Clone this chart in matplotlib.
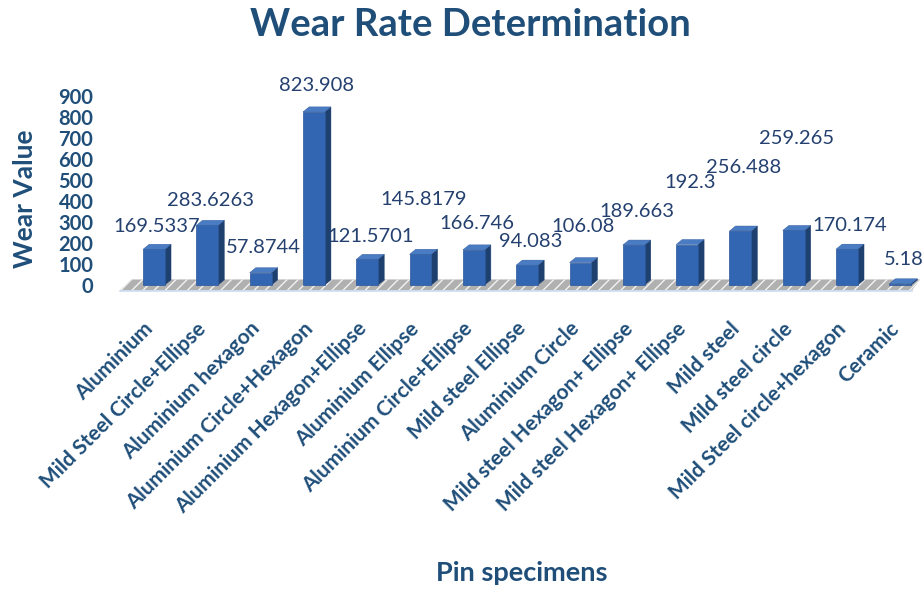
import matplotlib.pyplot as plt
from matplotlib.patches import Polygon
from matplotlib.transforms import ScaledTranslation

plt.rcParams['font.family'] = ['Lato', 'DejaVu Sans']

specimens = [
    "Aluminium", "Mild Steel Circle+Ellipse", "Aluminium hexagon",
    "Aluminium Circle+Hexagon", "Aluminium Hexagon+Ellipse", "Aluminium Ellipse",
    "Aluminium Circle+Ellipse", "Mild steel Ellipse", "Aluminium Circle",
    "Mild steel Hexagon+ Ellipse", "Mild steel Hexagon+ Ellipse", "Mild steel",
    "Mild steel circle", "Mild Steel circle+hexagon", "Ceramic",
]
wear = [169.5337, 283.6263, 57.8744, 823.908, 121.5701, 145.8179, 166.746,
        94.083, 106.08, 189.663, 192.3, 256.488, 259.265, 170.174, 5.18]
value_text = ["169.5337", "283.6263", "57.8744", "823.908", "121.5701", "145.8179",
              "166.746", "94.083", "106.08", "189.663", "192.3", "256.488",
              "259.265", "170.174", "5.18"]
y_ticks = [0, 100, 200, 300, 400, 500, 600, 700, 800, 900]

# how far (in pixels) each value label sits above its bar
label_lift = [23, 25, 25, 26, 23, 55, 26, 24, 36, 34, 62, 64, 92, 24, 24]

DARK = '#1F4E79'
LABEL = '#24406F'
FRONT = '#3266B3'
SIDE = '#1E406F'
TOP = '#4A7CC4'

W = 0.41     # bar front width (category units)
DX = 0.115   # depth offset to the right
DY = 24      # depth offset upward (value units)

fig = plt.figure(figsize=(9.23, 5.90), dpi=100)
ax = fig.add_axes([110 / 923, (590 - 295) / 590, 810 / 923, 215 / 590])
ax.set_xlim(-0.825, 14.37)
ax.set_ylim(-48, 976)

# gray hatched floor
floor = Polygon([(-0.64, -26), (14.22, -26), (14.37, 26), (-0.42, 26)],
                closed=True, facecolor='#b0b0b0', edgecolor='#f2f2f2', hatch='///',
                linewidth=0, zorder=1)
ax.add_patch(floor)
ax.plot([-0.64, 14.22], [-29, -29], color='#c9daf0', lw=1.2, zorder=1)

x = list(range(len(wear)))
ax.bar(x, wear, width=W, color=FRONT, edgecolor='#2a5597', linewidth=0.5, zorder=3)
for xi, v in zip(x, wear):
    r = xi + W / 2
    l = xi - W / 2
    side = Polygon([(r, 0), (r + DX, DY), (r + DX, v + DY), (r, v)], closed=True,
                   facecolor=SIDE, edgecolor=SIDE, linewidth=0.3, zorder=2)
    top = Polygon([(l, v), (r, v), (r + DX, v + DY), (l + DX, v + DY)], closed=True,
                  facecolor=TOP, edgecolor='#2a5597', linewidth=0.3, zorder=3)
    ax.add_patch(side)
    ax.add_patch(top)

for xi, v, txt, lift in zip(x, wear, value_text, label_lift):
    ax.annotate(txt, (xi + DX / 2, v), xytext=(0, lift), textcoords='offset pixels',
                ha='center', va='center', fontsize=14.5, color=LABEL, zorder=5)

ax.set_yticks(y_ticks)
ax.set_yticklabels([str(t) for t in y_ticks], fontsize=14.5, fontweight='bold', color=DARK)
shift = ScaledTranslation(0, -6 / 100, fig.dpi_scale_trans)
for lab in ax.get_yticklabels():
    lab.set_transform(lab.get_transform() + shift)
ax.tick_params(axis='y', length=0, pad=12)

ax.set_xticks(x)
ax.set_xticklabels(specimens, rotation=45, ha='right', va='center',
                   rotation_mode='anchor', fontsize=15, fontweight='bold', color=DARK)
ax.tick_params(axis='x', length=0, pad=22)
xshift = ScaledTranslation(-4 / 100, 0, fig.dpi_scale_trans)
for lab in ax.get_xticklabels():
    lab.set_transform(lab.get_transform() + xshift)

for s in ax.spines.values():
    s.set_visible(False)

fig.text(470 / 923, 1 - 25 / 590, "Wear Rate Determination", ha='center', va='center',
         fontsize=27.5, fontweight='bold', color=DARK)
fig.text(25 / 923, 1 - 199 / 590, "Wear Value", ha='center', va='center', rotation=90,
         fontsize=19, fontweight='bold', color=DARK)
fig.text(522 / 923, 1 - 573 / 590, "Pin specimens", ha='center', va='center',
         fontsize=19.5, fontweight='bold', color=DARK)

fig.savefig('out.png', dpi=100)
